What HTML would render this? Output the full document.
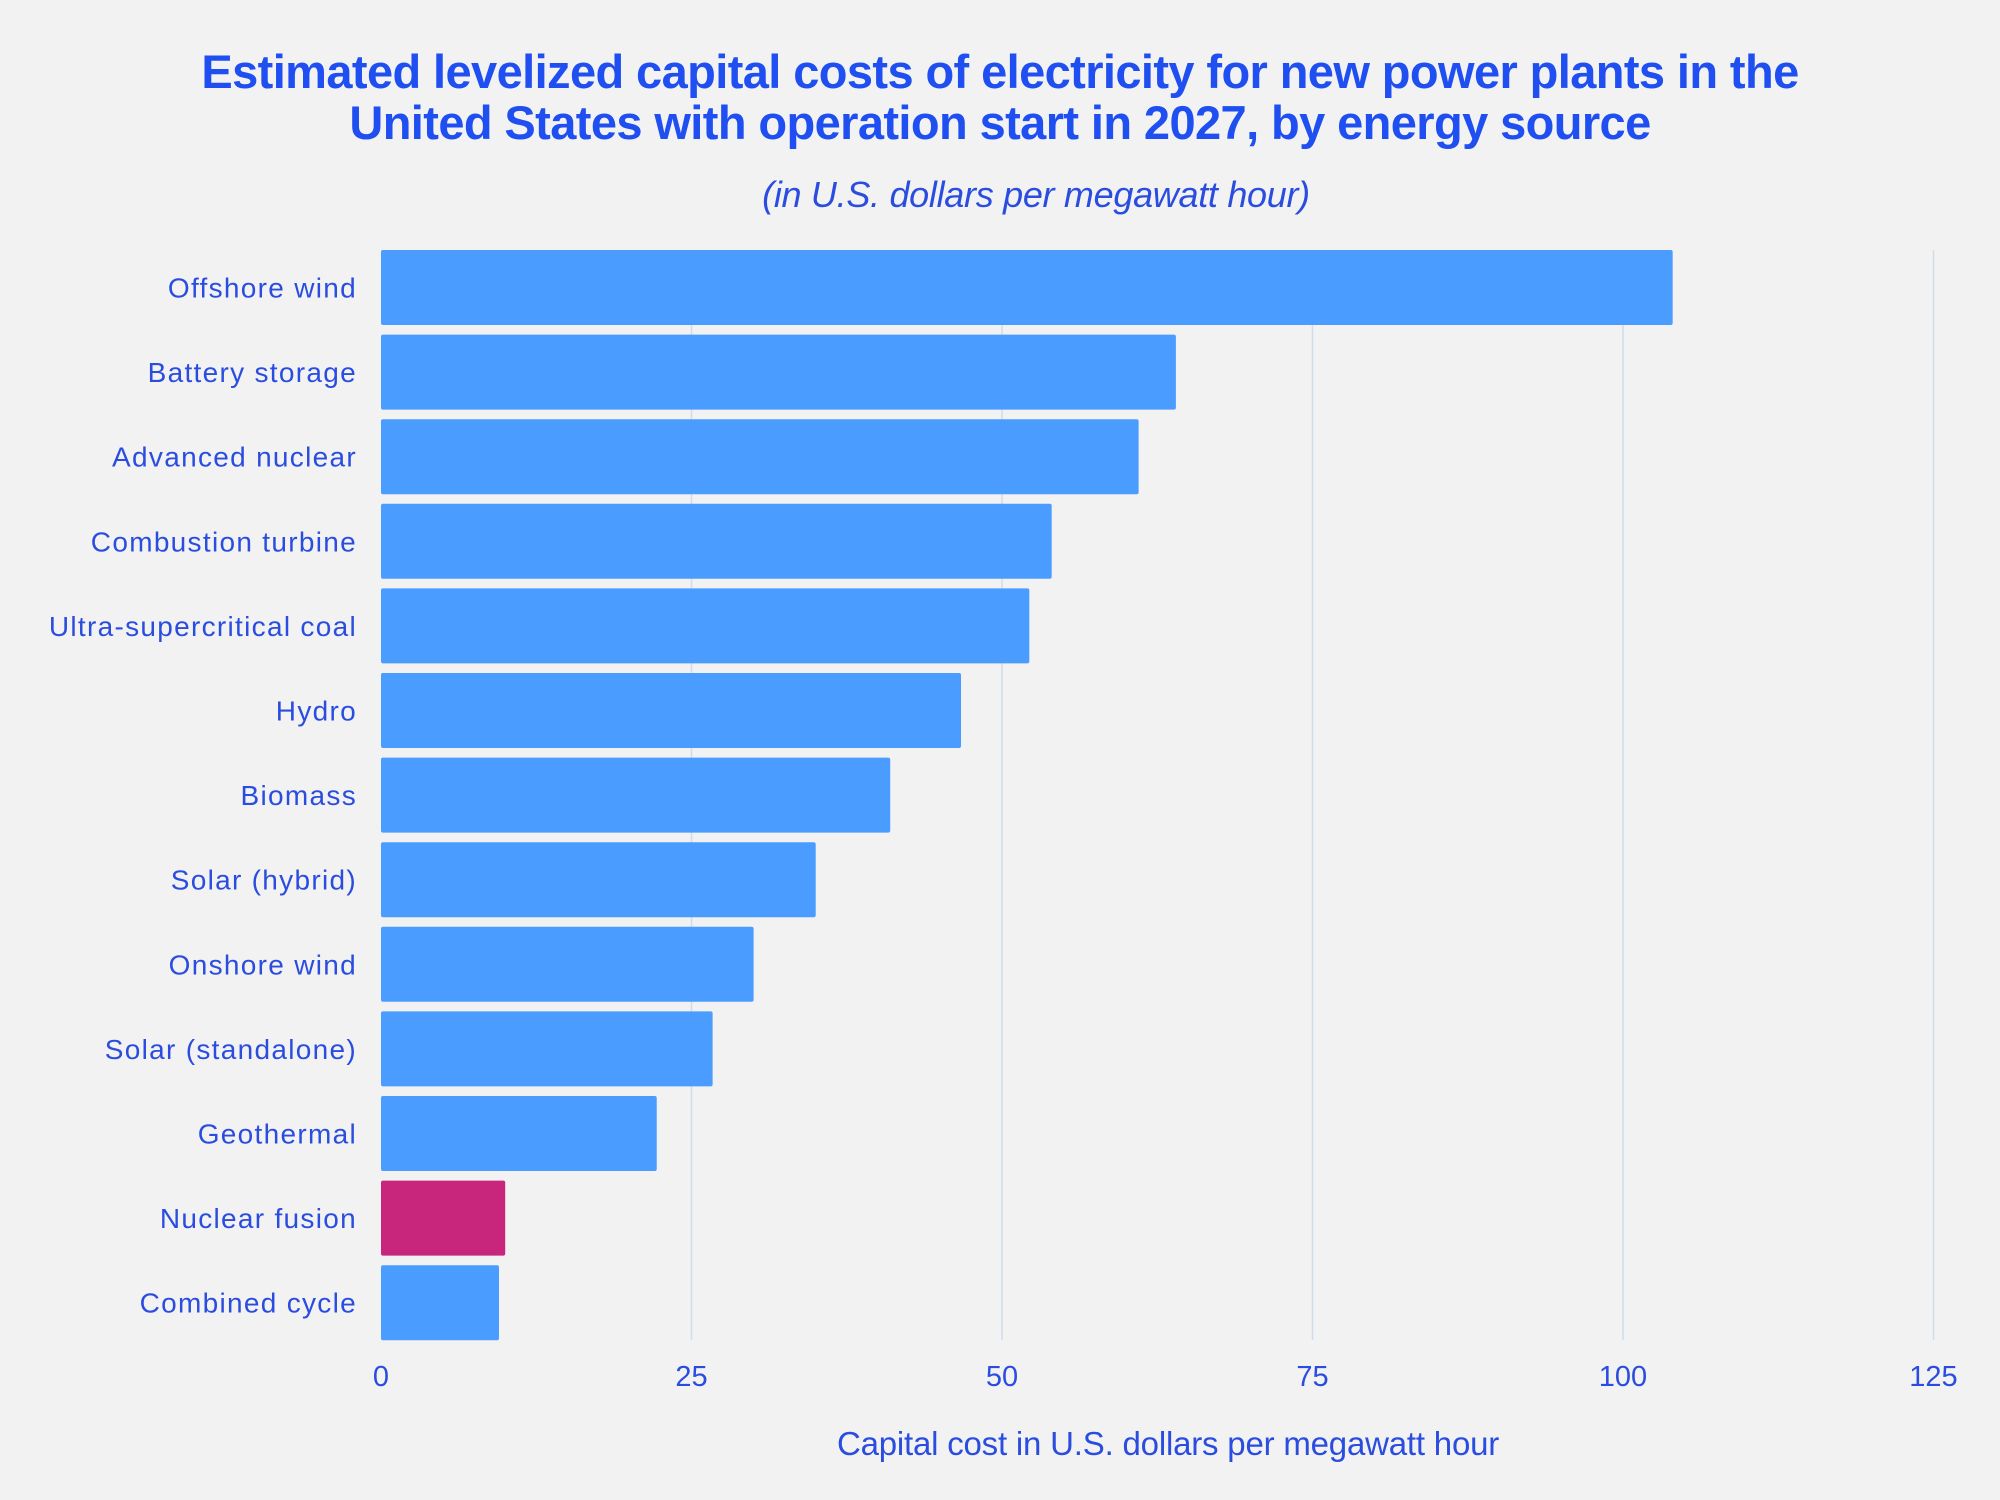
<!DOCTYPE html>
<html><head><meta charset="utf-8"><style>
html,body{margin:0;padding:0;background:#f2f2f2;}
svg{display:block;font-family:"Liberation Sans",sans-serif;}
</style></head><body>
<svg id="chart" width="2000" height="1500" viewBox="0 0 2000 1500">
<rect width="2000" height="1500" fill="#f2f2f2"/>
<text x="1000" y="88" text-anchor="middle" font-size="47" font-weight="bold" fill="#1f4ff0" letter-spacing="-0.6">Estimated levelized capital costs of electricity for new power plants in the</text>
<text x="1000" y="139" text-anchor="middle" font-size="47" font-weight="bold" fill="#1f4ff0" letter-spacing="-0.6">United States with operation start in 2027, by energy source</text>
<text x="1036" y="207" text-anchor="middle" font-size="36" font-style="italic" fill="#2a4de0" letter-spacing="-0.3">(in U.S. dollars per megawatt hour)</text>
<g id="grid"></g>
<g id="bars"></g>
<g id="ylabels"></g>
<g id="xticks"></g>
<text x="1168" y="1455" text-anchor="middle" font-size="33" fill="#2a4de0" letter-spacing="-0.2">Capital cost in U.S. dollars per megawatt hour</text>
</svg>
<script>
const categories = ["Offshore wind","Battery storage","Advanced nuclear","Combustion turbine","Ultra-supercritical coal","Hydro","Biomass","Solar (hybrid)","Onshore wind","Solar (standalone)","Geothermal","Nuclear fusion","Combined cycle"];
const values = [104,64,61,54,52.2,46.7,41,35,30,26.7,22.2,10,9.5];
const highlight = ["Nuclear fusion"];
const xTicks = [0,25,50,75,100,125];
const xTickLabels = ["0","25","50","75","100","125"];

const NS = "http://www.w3.org/2000/svg";
const x0 = 381, pxPerUnit = 12.42;
const top0 = 250, pitch = 84.6, barH = 75;
function xScale(v){ return x0 + v * pxPerUnit; }
function yScale(i){ return top0 + i * pitch; }
function mk(tag, attrs){ const e = document.createElementNS(NS, tag); for (const k in attrs) e.setAttribute(k, attrs[k]); return e; }

const grid = document.getElementById('grid');
xTicks.forEach((t, i) => {
  if (t === 0) return;
  const l = mk('line', {x1: xScale(t), x2: xScale(t), y1: 250, y2: 1340, stroke: '#cfdcec', 'stroke-width': 1.5});
  
  
  grid.appendChild(l);
});
const xt = document.getElementById('xticks');
xTicks.forEach((t, i) => {
  const tx = mk('text', {x: xScale(t), y: 1386, 'text-anchor': 'middle', 'font-size': 29, fill: '#2a4de0'});
  tx.textContent = xTickLabels[i];
  
  
  xt.appendChild(tx);
});
const bars = document.getElementById('bars');
const yl = document.getElementById('ylabels');
categories.forEach((c, i) => {
  const y = yScale(i);
  const r = mk('rect', {x: x0, y: y, width: xScale(values[i]) - x0, height: barH, rx: 2,
    fill: highlight.includes(c) ? '#c8267c' : '#4a9cff'});
  
  
  bars.appendChild(r);
  const t = mk('text', {x: 357, y: y + barH/2 + 10, 'text-anchor': 'end', 'font-size': 28, fill: '#2a4de0', 'letter-spacing': 1.3});
  t.textContent = c;
  
  
  yl.appendChild(t);
});
</script>
</body></html>
